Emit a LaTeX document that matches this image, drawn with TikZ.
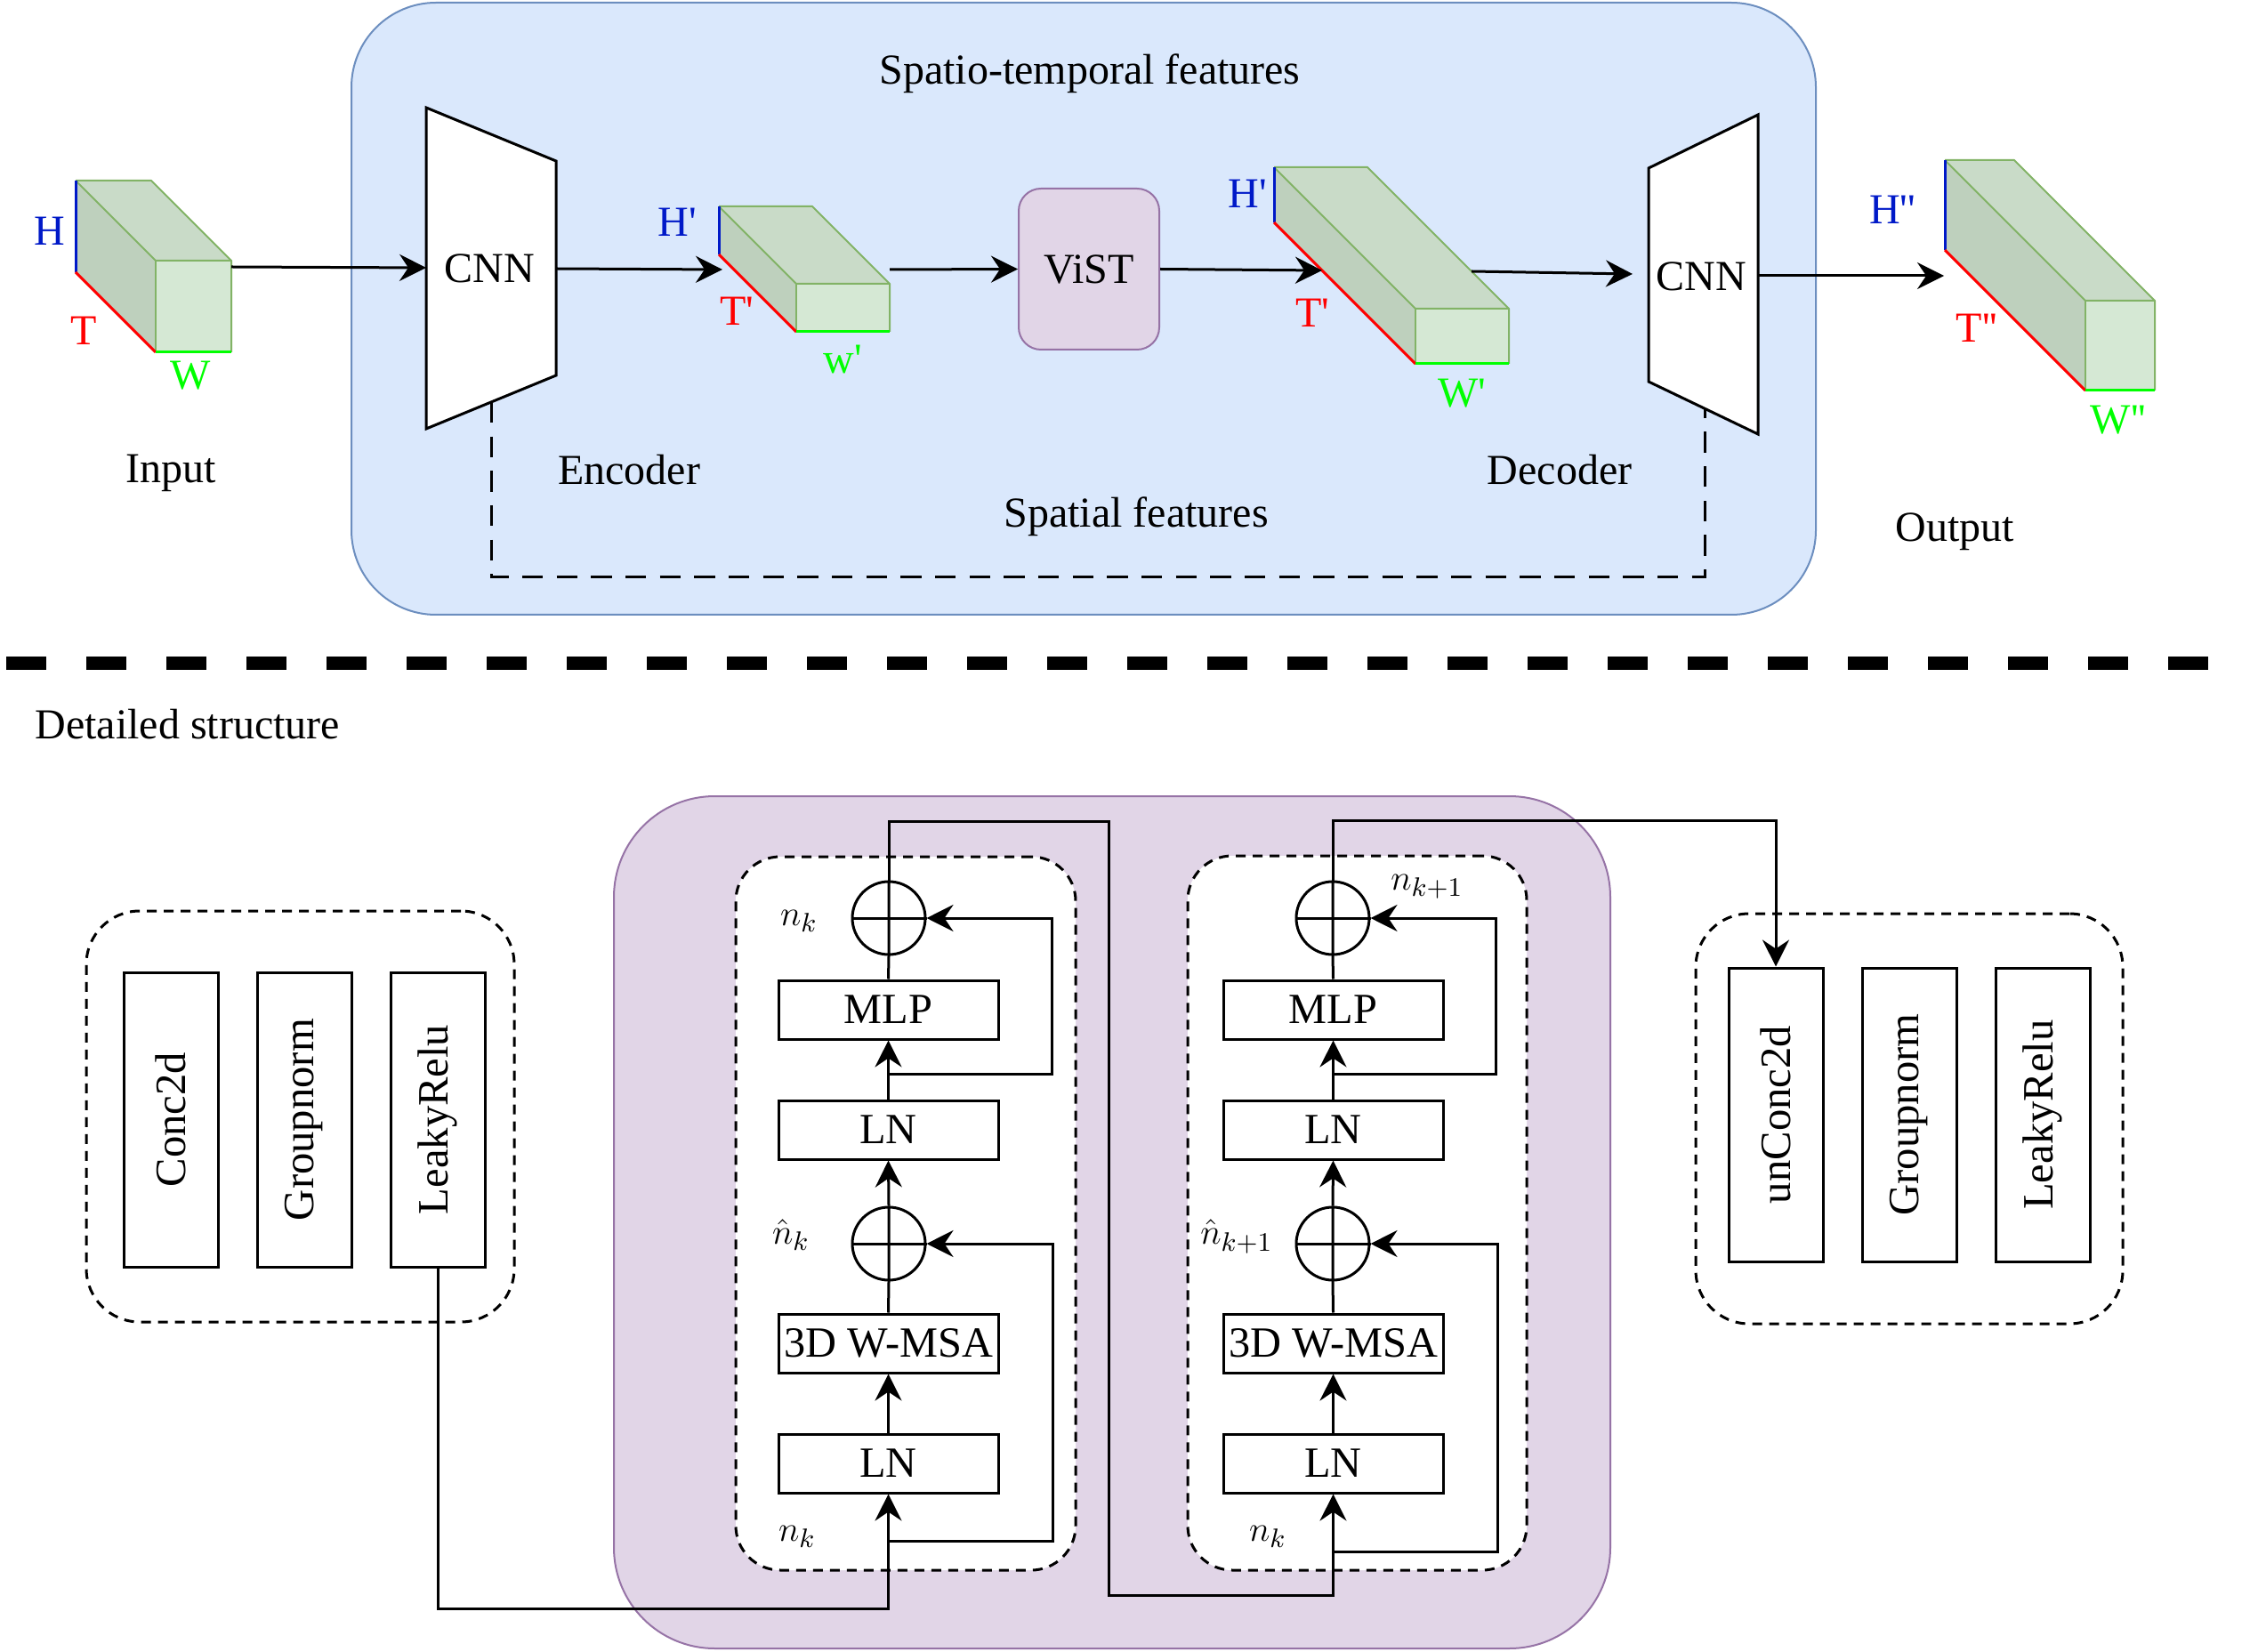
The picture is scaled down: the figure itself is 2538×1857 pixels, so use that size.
\documentclass[tikz,border=0pt]{standalone}
\usepackage[no-math]{fontspec}
\setmainfont{Liberation Serif}
\usetikzlibrary{arrows.meta}
\definecolor{bluefill}{HTML}{DAE8FC}
\definecolor{blueline}{HTML}{6C8EBF}
\definecolor{purfill}{HTML}{E1D5E7}
\definecolor{purline}{HTML}{9673A6}
\definecolor{cfront}{HTML}{D5E8D4}
\definecolor{ctop}{HTML}{C9DBC8}
\definecolor{cside}{HTML}{BED0BD}
\definecolor{cedge}{HTML}{82B366}
\definecolor{hblue}{HTML}{0019C8}
\definecolor{tred}{HTML}{FF0000}
\definecolor{wgreen}{HTML}{00FF00}
\newcommand{\sq}{\textquotesingle}
\newcommand{\featcube}[5]{%
  \fill[cside] (#1,#2) -- ({#1-#5},{#2-#5}) -- ({#1-#5},{#2+#4-#5}) -- (#1,{#2+#4}) -- cycle;
  \fill[ctop] (#1,#2) -- ({#1-#5},{#2-#5}) -- ({#1+#3-#5},{#2-#5}) -- ({#1+#3},#2) -- cycle;
  \fill[cfront] (#1,#2) rectangle ({#1+#3},{#2+#4});
  \draw[cedge, line width=0.6pt, line join=round] ({#1-#5},{#2-#5}) -- ({#1+#3-#5},{#2-#5}) -- ({#1+#3},#2) -- ({#1+#3},{#2+#4});
  \draw[cedge, line width=0.6pt] ({#1-#5},{#2-#5}) -- (#1,#2) -- ({#1+#3},#2);
  \draw[cedge, line width=0.6pt] (#1,#2) -- (#1,{#2+#4});
  \draw[hblue, line width=0.9pt] ({#1-#5},{#2-#5}) -- ({#1-#5},{#2+#4-#5});
  \draw[tred, line width=0.9pt] ({#1-#5},{#2+#4-#5}) -- (#1,{#2+#4});
  \draw[wgreen, line width=0.9pt] (#1,{#2+#4}) -- ({#1+#3},{#2+#4});
}
\begin{document}
\begin{tikzpicture}[x=0.3pt,y=-0.3pt,
  line width=0.9pt,
  >={Stealth[length=9pt,width=9pt,inset=3pt]},
  txt/.style={inner sep=0pt, font=\fontsize{14.4}{17}\selectfont},
  mth/.style={inner sep=0pt, font=\fontsize{13}{15}\selectfont},
  blk/.style={draw, fill=white, minimum width=74.1pt, minimum height=19.8pt, inner sep=0pt, font=\fontsize{14.5}{17}\selectfont},
  vblk/.style={draw, fill=white, rotate=90, minimum width=99.3pt, minimum height=31.8pt, inner sep=0pt, font=\fontsize{14.6}{17}\selectfont},
  sumnode/.style={draw, circle, minimum size=24.6pt, inner sep=0pt},
  dbox/.style={draw, dash pattern=on 3.3pt off 2.4pt, fill=white, inner sep=0pt},
  bigdash/.style={dash pattern=on 7pt off 4.6pt},
]
\useasboundingbox (0,0) rectangle (2538,1857);

% ---------- top: framework ----------
\node[draw=blueline, fill=bluefill, line width=0.6pt, rounded corners=28.5pt,
      minimum width=493.8pt, minimum height=206.4pt, inner sep=0pt] (frame) at (1218,347) {};
\node[txt] (sttitle) at (1225,83) {Spatio-temporal features};
\node[txt] (enc) at (707,528) {Encoder};
\node[txt] (dec) at (1753,528) {Decoder};
\node[txt] (spat) at (1277,581) {Spatial features};
\node[txt] (inp) at (192,532) {Input};
\node[txt] (outp) at (2197,598) {Output};

% spatial skip (dashed)
\coordinate (sp1) at (552,452);
\coordinate (sp2) at (1916,459);
\draw[bigdash] (sp1) -- ++(0,197) -| (sp2);

% CNN trapezoids
\draw[fill=white, line width=0.9pt, line join=miter] (479,121) -- (625,181) -- (625,422) -- (479,482) -- cycle;
\node[txt] (cnn1) at (550,302) {CNN};
\draw[fill=white, line width=0.9pt, line join=miter] (1853,189) -- (1976,129) -- (1976,488) -- (1853,429) -- cycle;
\node[txt] (cnn2) at (1912,311) {CNN};

% cubes
\featcube{175}{293}{85}{103}{90}
\featcube{895}{319}{105}{54}{87}
\featcube{1591}{347}{105}{62}{159}
\featcube{2344}{338}{78}{101}{158}

\node[txt, text=hblue] (h1) at (56,260) {H};
\node[txt, text=tred] (t1) at (94,372) {T};
\node[txt, text=wgreen] (w1) at (214,422) {W};
\node[txt, text=hblue] (h2) at (761,250) {H\sq};
\node[txt, text=tred] (t2) at (828,350) {T\sq};
\node[txt, text=wgreen] (w2) at (947,404) {w\sq};
\node[txt, text=hblue] (h3) at (1402,218) {H\sq};
\node[txt, text=tred] (t3) at (1475,352) {T\sq};
\node[txt, text=wgreen] (w3) at (1643,442) {W\sq};
\node[txt, text=hblue] (h4) at (2127,236) {H\sq\sq};
\node[txt, text=tred] (t4) at (2222,369) {T\sq\sq};
\node[txt, text=wgreen] (w4) at (2381,472) {W\sq\sq};

% ViST
\node[draw=purline, fill=purfill, line width=0.6pt, rounded corners=7.5pt,
      minimum width=47.4pt, minimum height=54.3pt, inner sep=0pt, txt] (vist) at (1224,302.5) {ViST};

% top connectors
\coordinate (c1out) at (260,300);
\coordinate (cnn1in) at (479,301);
\coordinate (cnn1out) at (625,302);
\coordinate (c2in) at (812,303);
\coordinate (c2out) at (1000,303);
\coordinate (c3in) at (1486,304);
\coordinate (c3out) at (1654,305);
\coordinate (cnn2in) at (1835,308);
\coordinate (cnn2out) at (1976,310);
\coordinate (c4in) at (2185,310);
\draw[->] (c1out) -- (cnn1in);
\draw[->] (cnn1out) -- (c2in);
\draw[->] (c2out) -- (vist.west);
\draw[->] (vist.east) -- (c3in);
\draw[->] (c3out) -- (cnn2in);
\draw[->] (cnn2out) -- (c4in);

% separator
\coordinate (sepL) at (7,746);
\coordinate (sepR) at (2485,746);
\draw[line width=4.5pt, dash pattern=on 13.5pt off 13.5pt] (sepL) -- (sepR);
\node[txt, anchor=west] (detail) at (38,814) {Detailed structure};

% ---------- bottom: detailed structure ----------
\node[draw=purline, fill=purfill, line width=0.6pt, rounded corners=34pt,
      minimum width=336pt, minimum height=287.4pt, inner sep=0pt] (vistbig) at (1250,1374) {};

\node[dbox, rounded corners=18pt, minimum width=144.3pt, minimum height=138.6pt] (encgrp) at (337.5,1255) {};
\node[dbox, rounded corners=18pt, minimum width=144pt, minimum height=138.3pt] (decgrp) at (2146,1257.5) {};
\node[dbox, rounded corners=15pt, minimum width=114.6pt, minimum height=240.6pt] (blk1) at (1018,1364) {};
\node[dbox, rounded corners=15pt, minimum width=114.3pt, minimum height=240.9pt] (blk2) at (1525.5,1363.5) {};

\node[vblk] (conc) at (192,1258.5) {Conc2d};
\node[vblk] (gn1) at (342,1258.5) {Groupnorm};
\node[vblk] (leaky1) at (492,1258.5) {LeakyRelu};
\node[vblk, minimum width=99pt] (unconc) at (1996,1253) {unConc2d};
\node[vblk, minimum width=99pt] (gn2) at (2146,1253) {Groupnorm};
\node[vblk, minimum width=99pt] (leaky2) at (2296,1253) {LeakyRelu};

% column 1
\node[blk] (lnA1) at (998.5,1645) {LN};
\node[blk] (msa1) at (998.5,1510) {3D W-MSA};
\node[sumnode] (sumA1) at (999,1398) {};
\node[blk] (lnB1) at (998.5,1270) {LN};
\node[blk] (mlp1) at (998.5,1135) {MLP};
\node[sumnode] (sumB1) at (999,1032) {};
% column 2
\node[blk] (lnA2) at (1498.5,1645) {LN};
\node[blk] (msa2) at (1498.5,1510) {3D W-MSA};
\node[sumnode] (sumA2) at (1498,1398) {};
\node[blk] (lnB2) at (1498.5,1270) {LN};
\node[blk] (mlp2) at (1498.5,1135) {MLP};
\node[sumnode] (sumB2) at (1498,1032) {};

% labels
\node[mth] (lnk1) at (898,1035) {$n_k$};
\node[mth] (lhk1) at (889,1388) {$\hat{n}_k$};
\node[mth] (lnk1b) at (896,1727) {$n_k$};
\node[mth] (lnk2) at (1604,997) {$n_{k+1}$};
\node[mth] (lhk2) at (1390,1390) {$\hat{n}_{k+1}$};
\node[mth] (lnk2b) at (1425,1727) {$n_k$};

% column 1 wiring
\draw[->] (lnA1.north) -- (msa1.south);
\draw (msa1.north) -- (sumA1.south) -- (sumA1.north);
\draw (sumA1.west) -- (sumA1.east);
\draw[->] (sumA1.north) -- (lnB1.south);
\draw[->] (lnB1.north) -- (mlp1.south);
\draw (mlp1.north) -- (sumB1.south) -- (sumB1.north);
\draw (sumB1.west) -- (sumB1.east);
\coordinate (fbB1) at (999,1207);
\coordinate (fbA1) at (999,1732);
\draw[->] (fbB1) -- ++(183,0) |- (sumB1.east);
\draw[->] (fbA1) -- ++(184,0) |- (sumA1.east);
% column 2 wiring
\draw[->] (lnA2.north) -- (msa2.south);
\draw (msa2.north) -- (sumA2.south) -- (sumA2.north);
\draw (sumA2.west) -- (sumA2.east);
\draw[->] (sumA2.north) -- (lnB2.south);
\draw[->] (lnB2.north) -- (mlp2.south);
\draw (mlp2.north) -- (sumB2.south) -- (sumB2.north);
\draw (sumB2.west) -- (sumB2.east);
\coordinate (fbB2) at (1498,1207);
\coordinate (fbA2) at (1498,1744);
\draw[->] (fbB2) -- ++(183,0) |- (sumB2.east);
\draw[->] (fbA2) -- ++(185,0) |- (sumA2.east);

% inter-block wiring
\draw[->] (leaky1.west) -- ++(0,383) -| (lnA1.south);
\draw[->] (sumB1.north) -- ++(0,-66) -- ++(247,0) -- ++(0,870) -| (lnA2.south);
\draw[->] (sumB2.north) -- ++(0,-67) -| (unconc.east);
\end{tikzpicture}
\end{document}
